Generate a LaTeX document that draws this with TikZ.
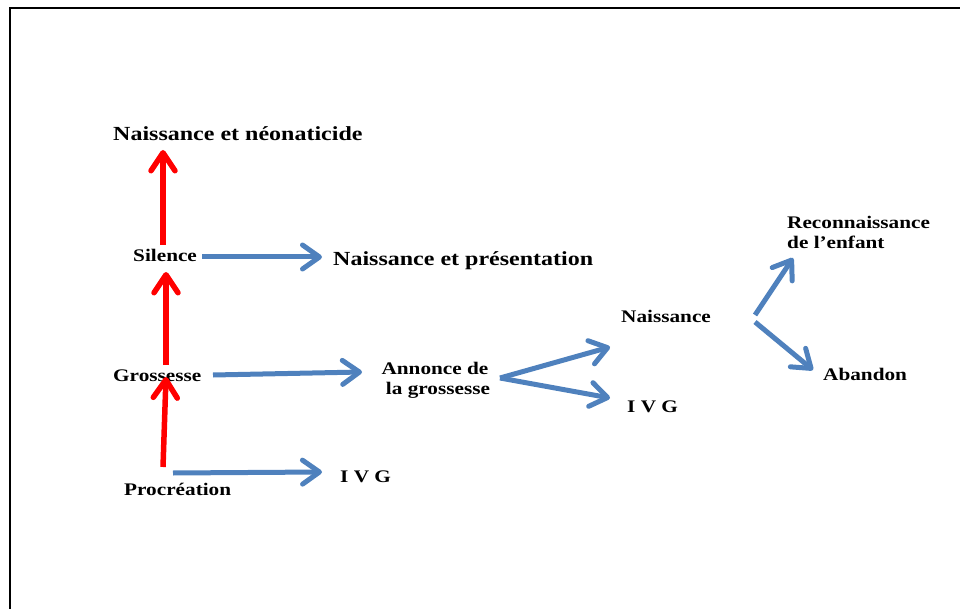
\documentclass[tikz,border=0pt]{standalone}
\usepackage{fontspec}
\setmainfont{Liberation Serif}[FakeStretch=1.2]
\usetikzlibrary{arrows.meta,calc}
\definecolor{arrblue}{RGB}{79,129,189}
\definecolor{arrred}{RGB}{255,0,0}
\tikzset{
  big/.style={inner sep=0pt,anchor=base west,font=\fontsize{20}{24}\selectfont\bfseries},
  small/.style={inner sep=0pt,anchor=base west,font=\fontsize{17.7}{20}\selectfont\bfseries},
  bluearr/.style={draw=arrblue,line width=5pt,-{Straight Barb[length=17pt,width=24pt,round]}},
  redarr/.style={draw=arrred,line width=5.5pt,-{Straight Barb[length=18pt,width=24pt,round]}},
  framel/.style={draw=black,line width=2pt}
}
\begin{document}
\begin{tikzpicture}[x=1pt,y=-1pt]
\useasboundingbox (0,0) rectangle (960,609);
\draw[framel] (10,609) -- (10,7.8) -- (960,7.8);
% nodes
\node[big]   (nn)   at (113,141)   {Naissance et néonaticide};
\node[small] (sil)  at (133,261.5) {Silence};
\node[big]   (pres) at (333,265.5) {Naissance et présentation};
\node[small] (gro)  at (113,381.5) {Grossesse};
\node[small,anchor=north,align=center] (ann) at (435,362) {Annonce de\\\hspace*{6pt}la grossesse};
\node[small] (pro)  at (124,495)   {Procréation};
\node[small] (ivga) at (340,482)   {I V G};
\node[small] (nai)  at (621,323)   {Naissance};
\node[small] (ivgb) at (627,412)   {I V G};
\node[small,anchor=north west,align=left] (rec) at (787,216) {Reconnaissance\\de l’enfant};
\node[small] (aba)  at (823,380)   {Abandon};
% red arrows
\draw[redarr] ($(pro.base west)+(39,-28)$) -- ($(gro.base west)+(53,-4.5)$);
\draw[redarr] ($(gro.base west)+(53,-16.5)$) -- ($(sil.base west)+(33,10.5)$);
\draw[redarr] ($(sil.base west)+(30,-16.5)$) -- ($(nn.base west)+(50,9)$);
% blue arrows
\draw[bluearr] ($(sil.base west)+(69,-4.5)$) -- ($(pres.base west)+(-11,-8.5)$);
\draw[bluearr] ($(gro.base west)+(100,-6.5)$) -- ($(ann.north)+(-73,10)$);
\draw[bluearr] ($(pro.base west)+(49,-22)$) -- ($(ivga.base west)+(-18,-10)$);
\draw[bluearr] ($(ann.north)+(65,16)$) -- ($(nai.base west)+(-11,24)$);
\draw[bluearr] ($(ann.north)+(65,16)$) -- ($(ivgb.base west)+(-17,-14)$);
\draw[bluearr] ($(nai.base west)+(134,-8)$) -- ($(rec.north west)+(6,42)$);
\draw[bluearr] ($(nai.base west)+(134,-1)$) -- ($(aba.base west)+(-10,-10)$);
\end{tikzpicture}
\end{document}
